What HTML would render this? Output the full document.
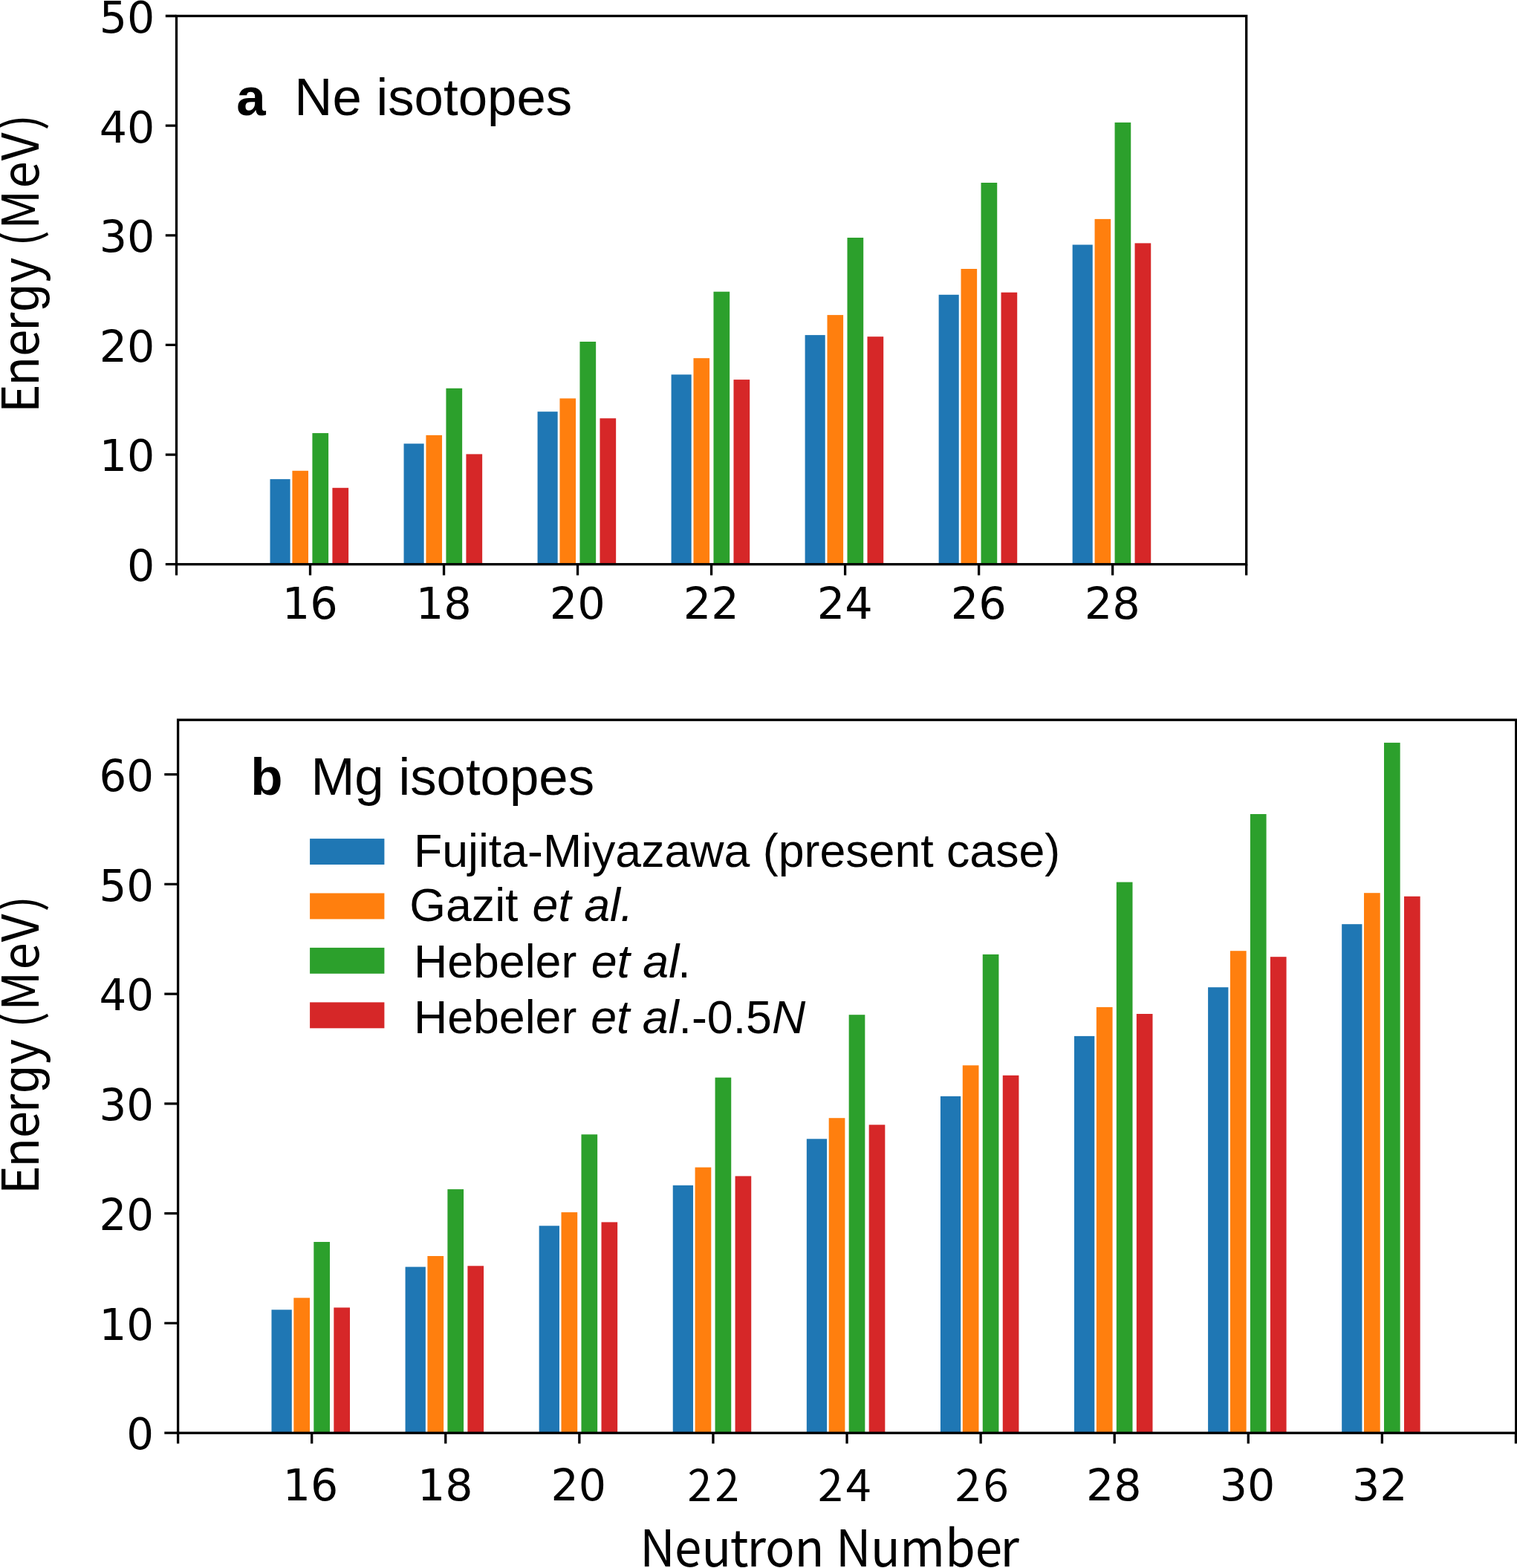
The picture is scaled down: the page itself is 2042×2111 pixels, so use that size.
<!DOCTYPE html>
<html lang="en"><head><meta charset="utf-8"><title>Energy vs neutron number for Ne and Mg isotopes</title>
<style>
html,body{margin:0;padding:0;background:#ffffff;}
body{width:2042px;height:2111px;overflow:hidden;}
svg{display:block;}
.tk{font-family:"DejaVu Sans","Liberation Sans",sans-serif;fill:#000000;}
.my{font-family:"Noto Sans CJK JP","Liberation Sans",sans-serif;fill:#000000;}
.ar{font-family:"Liberation Sans",sans-serif;fill:#000000;}
.ln{stroke:#000000;fill:none;}
</style></head><body>
<svg width="2042" height="2111" viewBox="0 0 2042 2111">
<rect x="0" y="0" width="2042" height="2111" fill="#ffffff"/>
<g id="panel-a">
<g shape-rendering="auto">
<rect x="363.52" y="645.1" width="27.1" height="114.6" fill="#1f77b4"/>
<rect x="393.42" y="633.8" width="21.6" height="125.9" fill="#ff7f0e"/>
<rect x="420.42" y="583.1" width="21.7" height="176.6" fill="#2ca02c"/>
<rect x="447.42" y="656.8" width="21.7" height="102.9" fill="#d62728"/>
<rect x="543.54" y="597.3" width="27.1" height="162.4" fill="#1f77b4"/>
<rect x="573.44" y="585.9" width="21.6" height="173.8" fill="#ff7f0e"/>
<rect x="600.44" y="522.8" width="21.7" height="236.9" fill="#2ca02c"/>
<rect x="627.44" y="611.4" width="21.7" height="148.3" fill="#d62728"/>
<rect x="723.56" y="554.2" width="27.1" height="205.5" fill="#1f77b4"/>
<rect x="753.46" y="536.4" width="21.6" height="223.3" fill="#ff7f0e"/>
<rect x="780.46" y="460" width="21.7" height="299.7" fill="#2ca02c"/>
<rect x="807.46" y="563.2" width="21.7" height="196.5" fill="#d62728"/>
<rect x="903.58" y="504.3" width="27.1" height="255.4" fill="#1f77b4"/>
<rect x="933.48" y="482.2" width="21.6" height="277.5" fill="#ff7f0e"/>
<rect x="960.48" y="392.7" width="21.7" height="367" fill="#2ca02c"/>
<rect x="987.48" y="511.1" width="21.7" height="248.6" fill="#d62728"/>
<rect x="1083.6" y="451.1" width="27.1" height="308.6" fill="#1f77b4"/>
<rect x="1113.5" y="424.1" width="21.6" height="335.6" fill="#ff7f0e"/>
<rect x="1140.5" y="320" width="21.7" height="439.7" fill="#2ca02c"/>
<rect x="1167.5" y="453.2" width="21.7" height="306.5" fill="#d62728"/>
<rect x="1263.62" y="396.8" width="27.1" height="362.9" fill="#1f77b4"/>
<rect x="1293.52" y="362" width="21.6" height="397.7" fill="#ff7f0e"/>
<rect x="1320.52" y="246" width="21.7" height="513.7" fill="#2ca02c"/>
<rect x="1347.52" y="393.7" width="21.7" height="366" fill="#d62728"/>
<rect x="1443.64" y="329.5" width="27.1" height="430.2" fill="#1f77b4"/>
<rect x="1473.54" y="294.9" width="21.6" height="464.8" fill="#ff7f0e"/>
<rect x="1500.54" y="164.9" width="21.7" height="594.8" fill="#2ca02c"/>
<rect x="1527.54" y="327.4" width="21.7" height="432.3" fill="#d62728"/>
</g>
<g class="ln" stroke-width="3.3">
<path d="M222.8 759.7H237.5M222.8 612.06H237.5M222.8 464.42H237.5M222.8 316.78H237.5M222.8 169.14H237.5M222.8 21.5H237.5M237.5 759.7V774.4M417.52 759.7V774.4M597.54 759.7V774.4M777.56 759.7V774.4M957.58 759.7V774.4M1137.6 759.7V774.4M1317.62 759.7V774.4M1497.64 759.7V774.4M1677.66 759.7V774.4"/>
<rect x="237.5" y="21.5" width="1440.2" height="738.2"/>
</g>
<g class="tk" text-anchor="end" font-size="58.6">
<text x="208.3" y="782.1">0</text>
<text x="208.3" y="634.46">10</text>
<text x="208.3" y="486.82">20</text>
<text x="208.3" y="339.18">30</text>
<text x="208.3" y="191.54">40</text>
<text x="208.3" y="43.9">50</text>
</g>
<g class="tk" text-anchor="middle" font-size="59">
<text x="417.22" y="833.2">16</text>
<text x="597.24" y="833.2">18</text>
<text x="777.26" y="833.2">20</text>
<text x="957.28" y="833.2">22</text>
<text x="1137.3" y="833.2">24</text>
<text x="1317.32" y="833.2">26</text>
<text x="1497.34" y="833.2">28</text>
</g>
</g>
<g id="panel-b">
<g shape-rendering="auto">
<rect x="365.49" y="1763.3" width="27.3" height="165.9" fill="#1f77b4"/>
<rect x="395.34" y="1747.3" width="21.7" height="181.9" fill="#ff7f0e"/>
<rect x="422.32" y="1672" width="21.67" height="257.2" fill="#2ca02c"/>
<rect x="449.34" y="1760.4" width="21.65" height="168.8" fill="#d62728"/>
<rect x="545.57" y="1705.6" width="27.3" height="223.6" fill="#1f77b4"/>
<rect x="575.42" y="1691" width="21.7" height="238.2" fill="#ff7f0e"/>
<rect x="602.4" y="1601.1" width="21.67" height="328.1" fill="#2ca02c"/>
<rect x="629.42" y="1704.3" width="21.65" height="224.9" fill="#d62728"/>
<rect x="725.66" y="1650.3" width="27.3" height="278.9" fill="#1f77b4"/>
<rect x="755.51" y="1632.1" width="21.7" height="297.1" fill="#ff7f0e"/>
<rect x="782.49" y="1527.3" width="21.67" height="401.9" fill="#2ca02c"/>
<rect x="809.51" y="1645.4" width="21.65" height="283.8" fill="#d62728"/>
<rect x="905.74" y="1595.8" width="27.3" height="333.4" fill="#1f77b4"/>
<rect x="935.59" y="1571.6" width="21.7" height="357.6" fill="#ff7f0e"/>
<rect x="962.57" y="1450.7" width="21.67" height="478.5" fill="#2ca02c"/>
<rect x="989.59" y="1583.4" width="21.65" height="345.8" fill="#d62728"/>
<rect x="1085.83" y="1533.3" width="27.3" height="395.9" fill="#1f77b4"/>
<rect x="1115.68" y="1505.2" width="21.7" height="424" fill="#ff7f0e"/>
<rect x="1142.66" y="1366.2" width="21.67" height="563" fill="#2ca02c"/>
<rect x="1169.68" y="1514.3" width="21.65" height="414.9" fill="#d62728"/>
<rect x="1265.92" y="1475.9" width="27.3" height="453.3" fill="#1f77b4"/>
<rect x="1295.77" y="1434.3" width="21.7" height="494.9" fill="#ff7f0e"/>
<rect x="1322.75" y="1284.9" width="21.67" height="644.3" fill="#2ca02c"/>
<rect x="1349.77" y="1447.8" width="21.65" height="481.4" fill="#d62728"/>
<rect x="1446" y="1394.9" width="27.3" height="534.3" fill="#1f77b4"/>
<rect x="1475.85" y="1355.9" width="21.7" height="573.3" fill="#ff7f0e"/>
<rect x="1502.83" y="1187.6" width="21.67" height="741.6" fill="#2ca02c"/>
<rect x="1529.85" y="1365" width="21.65" height="564.2" fill="#d62728"/>
<rect x="1626.09" y="1329.2" width="27.3" height="600" fill="#1f77b4"/>
<rect x="1655.94" y="1280.2" width="21.7" height="649" fill="#ff7f0e"/>
<rect x="1682.92" y="1096" width="21.67" height="833.2" fill="#2ca02c"/>
<rect x="1709.94" y="1288.2" width="21.65" height="641" fill="#d62728"/>
<rect x="1806.17" y="1244.2" width="27.3" height="685" fill="#1f77b4"/>
<rect x="1836.02" y="1202.2" width="21.7" height="727" fill="#ff7f0e"/>
<rect x="1863" y="999.9" width="21.67" height="929.3" fill="#2ca02c"/>
<rect x="1890.02" y="1206.8" width="21.65" height="722.4" fill="#d62728"/>
</g>
<g class="ln" stroke-width="3.3">
<path d="M221.3 1929.2H239.6M221.3 1781.45H239.6M221.3 1633.7H239.6M221.3 1485.95H239.6M221.3 1338.2H239.6M221.3 1190.45H239.6M221.3 1042.7H239.6M239.6 1929.2V1943.6M419.69 1929.2V1943.6M599.77 1929.2V1943.6M779.86 1929.2V1943.6M959.94 1929.2V1943.6M1140.03 1929.2V1943.6M1320.12 1929.2V1943.6M1500.2 1929.2V1943.6M1680.29 1929.2V1943.6M1860.37 1929.2V1943.6M2040.46 1929.2V1943.6"/>
<rect x="239.6" y="969.2" width="1801.2" height="960"/>
</g>
<g class="tk" text-anchor="end" font-size="57.8">
<text x="207.05" y="1951.4">0</text>
<text x="207.05" y="1803.65">10</text>
<text x="207.05" y="1655.9">20</text>
<text x="207.05" y="1508.15">30</text>
<text x="207.05" y="1360.4">40</text>
<text x="207.05" y="1212.65">50</text>
<text x="207.05" y="1064.9">60</text>
</g>
<g class="tk" text-anchor="middle" font-size="58.6">
<text x="417.95" y="2019.9">16</text>
<text x="599.3" y="2019.9">18</text>
<text x="778.75" y="2019.9">20</text>
<text x="1499.3" y="2019.9">28</text>
<text x="1679" y="2019.9">30</text>
<text x="1857.25" y="2019.9">32</text>
</g>
</g>
<text class="ar" transform="translate(318.3 155.2)" font-size="70.8" font-weight="bold">a</text>
<text class="ar" transform="translate(396.3 155.2)" font-size="70.8">Ne isotopes</text>
<text class="ar" transform="translate(337.2 1070.1)" font-size="70.8" font-weight="bold">b</text>
<text class="ar" transform="translate(418.4 1070.1)" font-size="70.8">Mg isotopes</text>
<rect x="417.1" y="1129.1" width="100.3" height="34.9" fill="#1f77b4"/>
<rect x="417.1" y="1202.5" width="100.3" height="34.9" fill="#ff7f0e"/>
<rect x="417.1" y="1275.9" width="100.3" height="34.9" fill="#2ca02c"/>
<rect x="417.1" y="1349.4" width="100.3" height="34.9" fill="#d62728"/>
<text class="ar" transform="translate(556.9 1167.4)" font-size="62.65">Fujita-Miyazawa (present case)</text>
<text class="ar" transform="translate(551.3 1240)" font-size="62.65">Gazit <tspan font-style="italic" dx="1.6">et al.</tspan></text>
<text class="ar" transform="translate(556.9 1316.1)" font-size="62.65">Hebeler <tspan font-style="italic" dx="2">et al</tspan><tspan dx="-1.9">.</tspan></text>
<text class="ar" transform="translate(556.9 1391.4)" font-size="62.65">Hebeler <tspan font-style="italic" dx="1.5">et al</tspan>.-0.5<tspan font-style="italic">N</tspan></text>
<text class="my" transform="translate(52 548.6) rotate(-90) scale(0.96 1)" font-size="68.3" x="-7.67 30.04 71.42 106.82 134.29 174.76 210.34 225.69 249.93 307.46 346.32 388.45">Ener<tspan class="ar" font-size="69.8">g</tspan>y (MeV)</text>
<text class="my" transform="translate(52 1600.7) rotate(-90) scale(0.96 1)" font-size="68.3" x="-7.67 30.04 71.42 106.82 134.29 174.76 210.34 225.69 249.93 307.46 346.32 388.45">Ener<tspan class="ar" font-size="69.8">g</tspan>y (MeV)</text>
<text class="my" transform="translate(0 2109.3) scale(0.96 1)" font-size="68.3" x="897.11 945.92 983.77 1023.63 1047.41 1072.95 1114.08 1155.74 1171.79 1220.76 1261.69 1325.28 1367.37 1402.63">Neutron Number</text>
<text class="my" transform="translate(0 2020.5)" font-size="58.5" x="925.44 962.48">22</text>
<text class="my" transform="translate(0 2020.5) scale(1.0350 1)" font-size="58.5" x="1063.75 1100.16">24</text>
<text class="my" transform="translate(0 2020.5) scale(1.0500 1)" font-size="58.5" x="1224.47 1260.47">26</text>
</svg>
</body></html>
